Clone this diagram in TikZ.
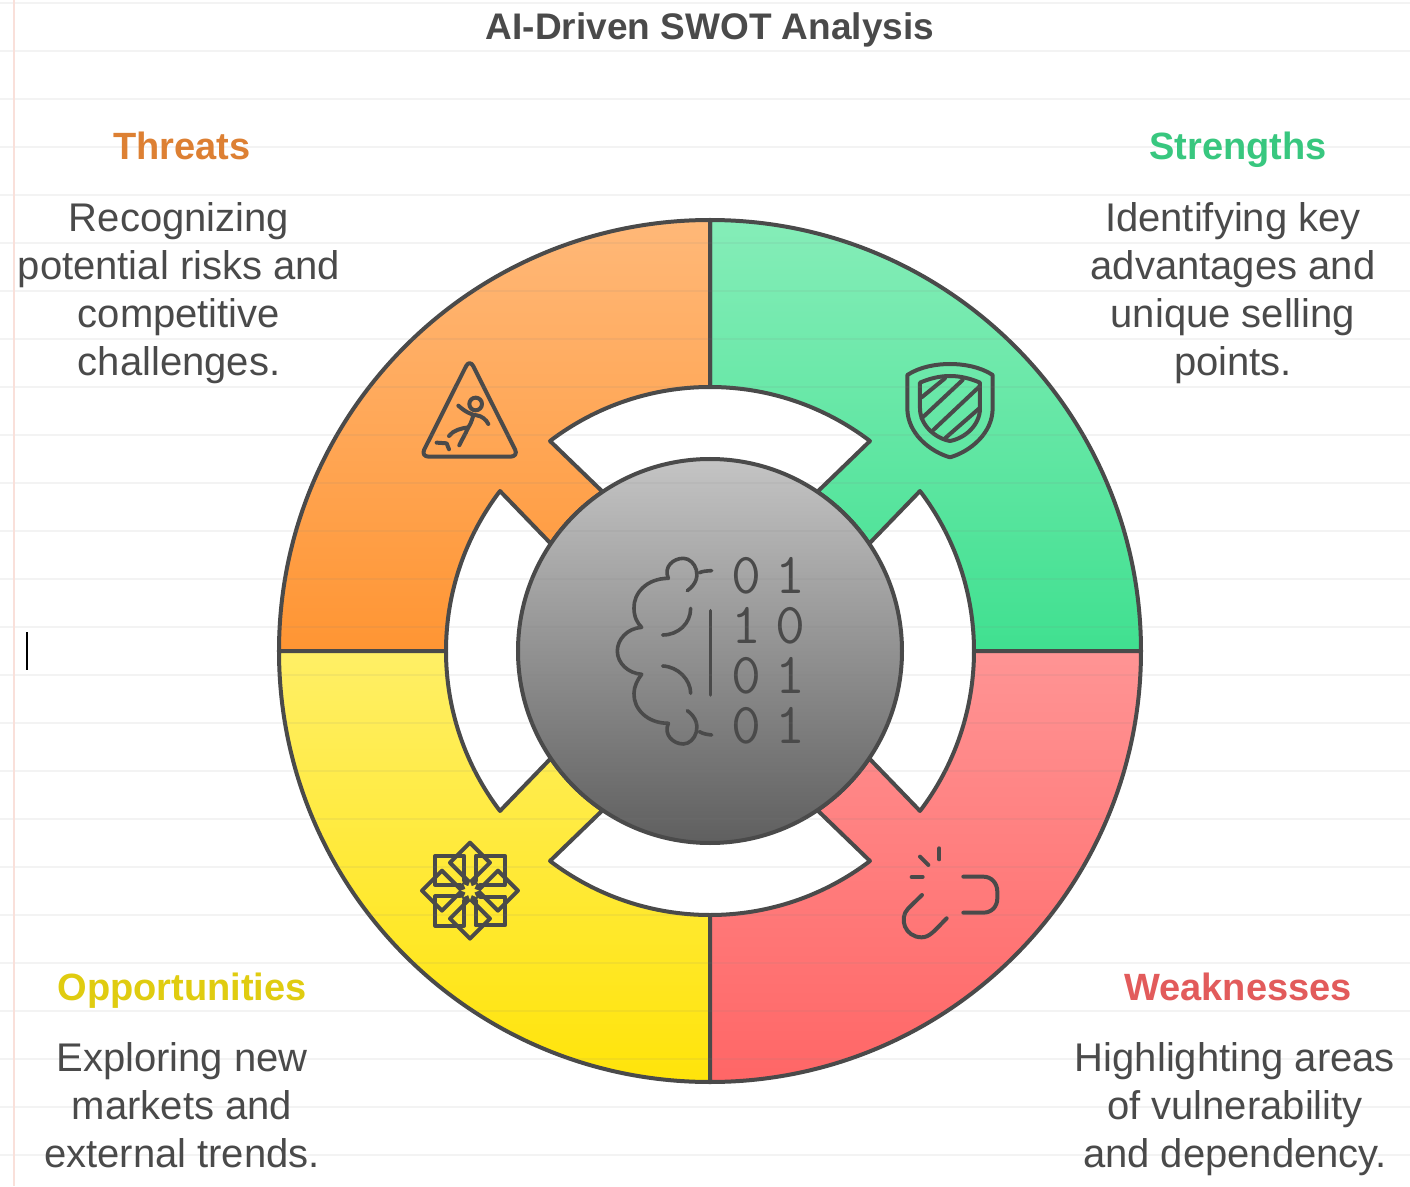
\documentclass[tikz,border=0pt]{standalone}
\usepackage{fontspec}
\setmainfont{Liberation Sans}
\usepackage{xcolor}
\usetikzlibrary{calc,positioning,shapes.geometric}
\definecolor{inkx}{HTML}{4A4A4A}
\definecolor{ruleln}{HTML}{808080}
\definecolor{marginln}{HTML}{F9E0DA}
\definecolor{threatx}{HTML}{DD8033}
\definecolor{strengthx}{HTML}{38C77F}
\definecolor{opporx}{HTML}{E0CC10}
\definecolor{weakx}{HTML}{E25B5B}
\definecolor{greentop}{HTML}{85EDB8}
\definecolor{greenlow}{HTML}{40E090}
\definecolor{orangetop}{HTML}{FFB878}
\definecolor{orangelow}{HTML}{FF9533}
\definecolor{yellowtop}{HTML}{FFEF66}
\definecolor{yellowlow}{HTML}{FFE40A}
\definecolor{yellowmid}{HTML}{FFE935}
\definecolor{redtop}{HTML}{FF9494}
\definecolor{redlow}{HTML}{FF6666}
\definecolor{coretop}{HTML}{C4C4C4}
\definecolor{corelow}{HTML}{5F5F5F}
\tikzset{
  seg/.style={draw=inkx,line width=4pt,line join=round},
  head/.style={font=\fontsize{38}{46}\selectfont\bfseries,inner sep=0pt,anchor=base},
  body/.style={font=\fontsize{40}{48}\selectfont,text=inkx,align=center,inner sep=0pt},
  icon/.style={x=0.3333pt,y=-0.3333pt,line width=4pt,line cap=round,line join=round,draw=inkx},
  bits/.style={font=\fontsize{58}{50}\selectfont\ttfamily,text=inkx,inner sep=0pt,align=center}
}
\newcommand{\quadseg}[4]{%
  \draw[seg,xscale=#1,yscale=#2,top color=#3,bottom color=#4]
    (0,431) arc (90:0:431) -- (264,0) arc (0:37.3:264) -- (34:192) arc (34:56:192)
    -- (52.7:264) arc (52.7:90:264) -- cycle;}
\newcommand{\bitgap}{\hspace{14.5pt}}

\begin{document}
\begin{tikzpicture}[x=1pt,y=1pt]
\useasboundingbox (-710,-535) rectangle (700,651);
\fill[white] (-710,-535) rectangle (700,651);
% ring
\quadseg{1}{1}{greentop}{greenlow}
\quadseg{-1}{1}{orangetop}{orangelow}
\quadseg{-1}{-1}{yellowtop}{yellowlow}
\quadseg{1}{-1}{redtop}{redlow}
\node[circle,draw=inkx,line width=4pt,top color=coretop,bottom color=corelow,minimum size=384pt,inner sep=0pt] (core) at (0,0) {};
% threats icon
\begin{scope}[icon,xshift=-310pt,yshift=311pt]
\draw[rounded corners=8pt] (209,57)--(62,350)--(356,350)--cycle;
\draw (227,192) circle (19);
\draw (175,197) .. controls (195,215) and (215,225) .. (230,226) .. controls (245,228) and (258,238) .. (265,252);
\draw (220,226) .. controls (215,245) and (210,255) .. (205,262);
\draw (147,288) .. controls (160,270) and (185,265) .. (205,262) .. controls (195,285) and (185,300) .. (178,316);
\draw (110,308)--(140,310)--(147,328);
\end{scope}
% strengths icon
\begin{scope}[icon,xshift=170pt,yshift=311pt]
\draw (82,105) .. controls (120,80) and (170,72) .. (210,72) .. controls (250,72) and (300,80) .. (338,105)
  -- (338,205) .. controls (338,280) and (270,335) .. (210,352) .. controls (150,335) and (82,280) .. (82,205) -- cycle;
\draw (120,128) .. controls (150,115) and (180,108) .. (210,108) .. controls (240,108) and (270,115) .. (300,128)
  -- (300,205) .. controls (300,255) and (255,295) .. (210,303) .. controls (165,295) and (120,255) .. (120,205) -- cycle;
\draw (125,172)--(195,115);
\draw (125,235)--(248,120);
\draw (160,270)--(298,140);
\draw (195,295)--(298,205);
\end{scope}
% opportunities icon
\begin{scope}[icon,xshift=-310pt,yshift=-169pt]
\foreach \a in {0,90,180,270}{
  \draw[rotate around={\a:(210,212)}] (150,128)--(210,68)--(270,128)--(210,188)--cycle;
  \draw[rotate around={\a:(210,212)}] (193,182)--(193,108)--(105,108)--(105,194)--(180,194);
}
\fill[inkx] (210,212) circle (33);
\node[star,star points=8,star point ratio=1.9,fill=yellowmid,minimum size=18pt,inner sep=0pt] (spark) at (210,212) {};
\end{scope}
% weaknesses icon
\begin{scope}[icon,xshift=170pt,yshift=-179pt]
\draw (178,55)--(178,88);
\draw (120,80)--(145,105);
\draw (95,141)--(128,141);
\draw (250,140)--(310,140) .. controls (335,140) and (352,160) .. (352,185) -- (352,205) .. controls (352,230) and (335,248) .. (310,248) -- (250,248);
\draw (126,195)--(85,235) .. controls (55,265) and (75,322) .. (125,322) .. controls (150,322) and (165,300) .. (200,265);
\end{scope}
% brain icon
\begin{scope}[icon,line width=3.6pt,xshift=-110pt,yshift=111pt]
\draw (262,152) .. controls (315,115) and (285,55) .. (250,55) .. controls (220,55) and (190,80) .. (205,115)
  .. controls (140,115) and (100,160) .. (102,205) .. controls (102,230) and (112,250) .. (125,262)
  .. controls (80,265) and (52,300) .. (52,333) .. controls (52,370) and (85,400) .. (125,403)
  .. controls (112,420) and (102,440) .. (102,460) .. controls (100,505) and (140,550) .. (205,550)
  .. controls (190,585) and (220,612) .. (250,612) .. controls (285,612) and (315,550) .. (262,512);
\draw (298,98) .. controls (310,93) and (320,93) .. (335,92);
\draw (298,575) .. controls (310,582) and (320,583) .. (335,585);
\draw (272,205) .. controls (272,250) and (235,285) .. (188,285);
\draw (188,378) .. controls (235,380) and (272,420) .. (272,460);
\draw (331,212)--(331,465);
\node[bits] (bits) at (505.5,333) {0\bitgap 1\\1\bitgap 0\\0\bitgap 1\\0\bitgap 1};
\end{scope}
% paper
\foreach \k in {0,...,24}
  \draw[ruleln,opacity=0.09,line width=1.5pt] (-710,648-48*\k) -- (700,648-48*\k);
\draw[marginln,line width=1.5pt] (-696,-535) -- (-696,651);
\draw[black,line width=1.2pt] (-683,19) -- (-683,-19);
% labels
\node[font=\fontsize{37}{44}\selectfont\bfseries,text=inkx,inner sep=0pt,anchor=base] (title) at (0,611) {AI-Driven SWOT Analysis};
\node[head,text=threatx] (threats) at (-528,491) {Threats};
\node[head,text=strengthx] (strengths) at (528,491) {Strengths};
\node[head,text=opporx] (opportunities) at (-528,-349) {Opportunities};
\node[head,text=weakx] (weaknesses) at (528,-349) {Weaknesses};
\node[body] (threatstext) at (-531,358) {Recognizing\\potential risks and\\competitive\\challenges.};
\node[body] (strengthstext) at (523,358) {Identifying key\\advantages and\\unique selling\\points.};
\node[body] (opporttext) at (-528,-454) {Exploring new\\markets and\\external trends.};
\node[body] (weaktext) at (525,-458) {Highlighting areas\\of vulnerability\\and dependency.};
\end{tikzpicture}
\end{document}
